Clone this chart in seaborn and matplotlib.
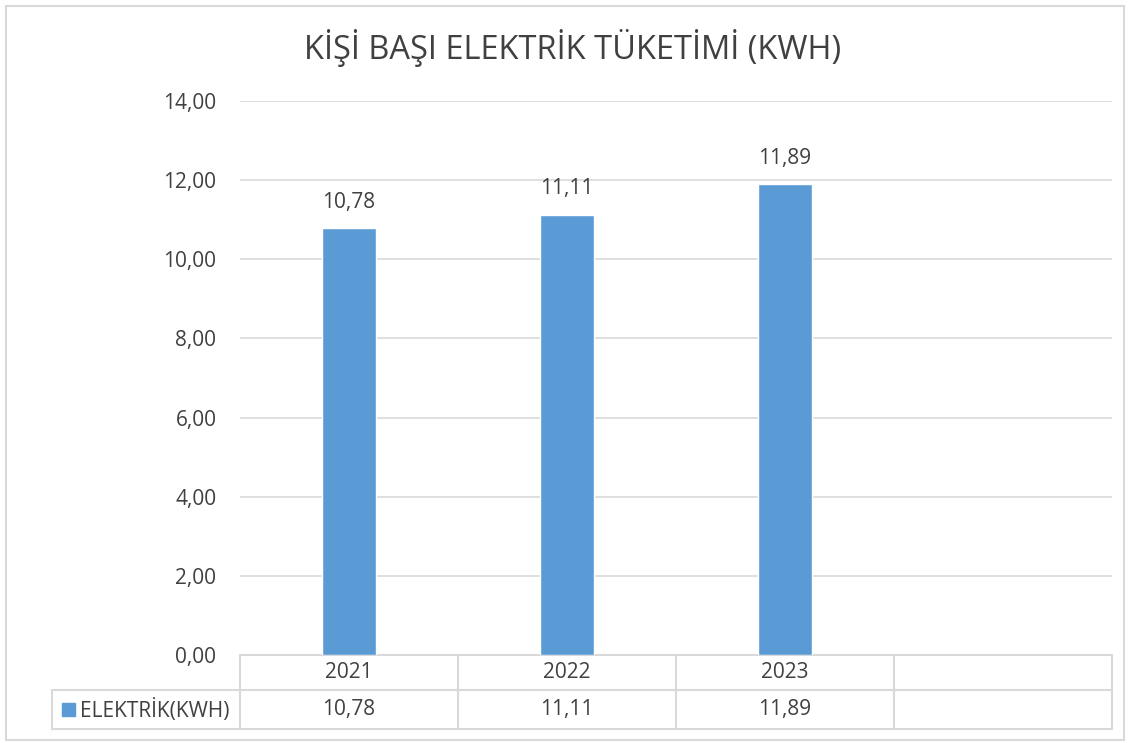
import seaborn as sns
import matplotlib.pyplot as plt
import matplotlib.transforms as mtransforms
from matplotlib.patches import Rectangle
import pandas as pd
import numpy as np

# data
years = ['2021', '2022', '2023', '']
values = [10.78, 11.11, 11.89, np.nan]
series_name = 'ELEKTRİK(KWH)'
title = 'KİŞİ BAŞI ELEKTRİK TÜKETİMİ (KWH)'

df = pd.DataFrame({'Yil': years, 'Deger': values})

bar_color = '#5B9BD5'
grid_color = '#D9D9D9'
text_color = '#404040'

sns.set_style('white')
plt.rcParams['font.family'] = ['Open Sans', 'DejaVu Sans']

W, H = 1130, 743
fig = plt.figure(figsize=(W / 100, H / 100), dpi=100)
ax = fig.add_axes([240 / W, 1 - 655 / H, 872 / W, 554 / H])

sns.barplot(data=df, x='Yil', y='Deger', order=years, color=bar_color,
            width=0.245, saturation=1, ax=ax, zorder=3)

ax.set_xlim(-0.5, len(years) - 0.5)
ax.set_ylim(0, 14)
ax.set_yticks(np.arange(0, 15, 2))
ax.set_yticklabels([f'{v:.2f}'.replace('.', ',') for v in np.arange(0, 15, 2)],
                   fontsize=15, color=text_color)
ax.tick_params(axis='y', length=0, pad=17)
ax.set_xticks([])
ax.set_xlabel('')
ax.set_ylabel('')
ax.grid(axis='y', color=grid_color, linewidth=1.2, zorder=0)
for s in ax.spines.values():
    s.set_visible(False)

# value labels
for i, v in enumerate(values):
    if not np.isnan(v):
        ax.annotate(f'{v:.2f}'.replace('.', ','), (i, v), xytext=(0, 19),
                    textcoords='offset points', ha='center', va='center',
                    fontsize=15, color=text_color)

# data table under the axis
tr = mtransforms.blended_transform_factory(ax.transData, ax.transAxes)
r1 = -35 / 554
r2 = r1 - 39 / 554
left_x = -0.5 - 188 / 218
n = len(years)
lk = dict(color=grid_color, linewidth=1.5, transform=tr, clip_on=False)
ax.plot([-0.5, n - 0.5], [0, 0], **lk)
ax.plot([left_x, n - 0.5], [r1, r1], **lk)
ax.plot([left_x, n - 0.5], [r2, r2], **lk)
for k in range(n + 1):
    ax.plot([k - 0.5, k - 0.5], [0, r2], **lk)
ax.plot([left_x, left_x], [r1, r2], **lk)

for i, (y, v) in enumerate(zip(years, values)):
    ax.text(i, r1 / 2, y, transform=tr, ha='center', va='center',
            fontsize=15, color=text_color)
    if not np.isnan(v):
        ax.text(i, (r1 + r2) / 2, f'{v:.2f}'.replace('.', ','), transform=tr,
                ha='center', va='center', fontsize=15, color=text_color)

# legend key in the table
fig.patches.append(Rectangle((62 / W, 1 - 716 / H), 13 / W, 13 / H,
                             transform=fig.transFigure, color=bar_color))
fig.text(80 / W, 1 - 710 / H, series_name, ha='left', va='center',
         fontsize=15, color=text_color)

fig.text(573 / W, 1 - 48 / H, title, ha='center', va='center',
         fontsize=23.5, color=text_color)

# chart border
fig.patches.append(Rectangle((6 / W, 3 / H), 1118 / W, 734 / H,
                             transform=fig.transFigure, fill=False,
                             edgecolor=grid_color, linewidth=1.5))

plt.savefig('out.png', dpi=100)
